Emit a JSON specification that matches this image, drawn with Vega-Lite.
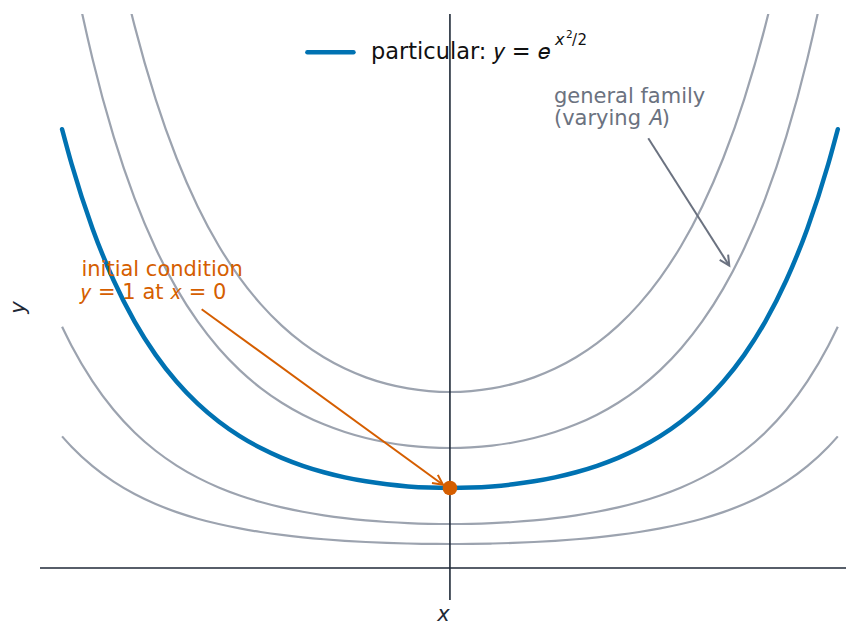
{
  "$schema": "https://vega.github.io/schema/vega-lite/v6.json",
  "width": 806,
  "height": 586,
  "autosize": {"type": "none"},
  "padding": {"left": 40, "top": 14, "right": 0, "bottom": 25},
  "background": "white",
  "config": {
    "view": {"stroke": null},
    "font": "DejaVu Sans",
    "axis": {"domain": false, "ticks": false, "labels": false, "grid": false}
  },
  "datasets": {
    "curves": [
      {"x": -1.845, "a030": 1.6455, "a055": 3.0167, "a100": 5.4849, "a150": 8.2274, "a220": 12.0668},
      {"x": -1.8, "a030": 1.5159, "a055": 2.7792, "a100": 5.0531, "a150": 7.5796, "a220": 11.1168},
      {"x": -1.7, "a030": 1.2726, "a055": 2.3331, "a100": 4.2419, "a150": 6.3629, "a220": 9.3322},
      {"x": -1.6, "a030": 1.0790, "a055": 1.9782, "a100": 3.5966, "a150": 5.3950, "a220": 7.9126},
      {"x": -1.5, "a030": 0.9241, "a055": 1.6941, "a100": 3.0802, "a150": 4.6203, "a220": 6.7765},
      {"x": -1.4, "a030": 0.7993, "a055": 1.4655, "a100": 2.6645, "a150": 3.9967, "a220": 5.8618},
      {"x": -1.3, "a030": 0.6984, "a055": 1.2804, "a100": 2.3280, "a150": 3.4920, "a220": 5.1216},
      {"x": -1.2, "a030": 0.6163, "a055": 1.1299, "a100": 2.0544, "a150": 3.0816, "a220": 4.5197},
      {"x": -1.1, "a030": 0.5494, "a055": 1.0072, "a100": 1.8313, "a150": 2.7469, "a220": 4.0288},
      {"x": -1.0, "a030": 0.4946, "a055": 0.9068, "a100": 1.6487, "a150": 2.4731, "a220": 3.6272},
      {"x": -0.9, "a030": 0.4498, "a055": 0.8246, "a100": 1.4994, "a150": 2.2490, "a220": 3.2986},
      {"x": -0.8, "a030": 0.4131, "a055": 0.7574, "a100": 1.3771, "a150": 2.0657, "a220": 3.0297},
      {"x": -0.7, "a030": 0.3833, "a055": 0.7027, "a100": 1.2776, "a150": 1.9164, "a220": 2.8108},
      {"x": -0.6, "a030": 0.3592, "a055": 0.6585, "a100": 1.1972, "a150": 1.7958, "a220": 2.6339},
      {"x": -0.5, "a030": 0.3399, "a055": 0.6232, "a100": 1.1332, "a150": 1.6997, "a220": 2.4929},
      {"x": -0.4, "a030": 0.3250, "a055": 0.5958, "a100": 1.0833, "a150": 1.6249, "a220": 2.3832},
      {"x": -0.3, "a030": 0.3138, "a055": 0.5753, "a100": 1.0460, "a150": 1.5690, "a220": 2.3013},
      {"x": -0.2, "a030": 0.3061, "a055": 0.5611, "a100": 1.0202, "a150": 1.5303, "a220": 2.2444},
      {"x": -0.1, "a030": 0.3015, "a055": 0.5528, "a100": 1.0050, "a150": 1.5075, "a220": 2.2110},
      {"x": 0.0, "a030": 0.3000, "a055": 0.5500, "a100": 1.0000, "a150": 1.5000, "a220": 2.2000},
      {"x": 0.1, "a030": 0.3015, "a055": 0.5528, "a100": 1.0050, "a150": 1.5075, "a220": 2.2110},
      {"x": 0.2, "a030": 0.3061, "a055": 0.5611, "a100": 1.0202, "a150": 1.5303, "a220": 2.2444},
      {"x": 0.3, "a030": 0.3138, "a055": 0.5753, "a100": 1.0460, "a150": 1.5690, "a220": 2.3013},
      {"x": 0.4, "a030": 0.3250, "a055": 0.5958, "a100": 1.0833, "a150": 1.6249, "a220": 2.3832},
      {"x": 0.5, "a030": 0.3399, "a055": 0.6232, "a100": 1.1332, "a150": 1.6997, "a220": 2.4929},
      {"x": 0.6, "a030": 0.3592, "a055": 0.6585, "a100": 1.1972, "a150": 1.7958, "a220": 2.6339},
      {"x": 0.7, "a030": 0.3833, "a055": 0.7027, "a100": 1.2776, "a150": 1.9164, "a220": 2.8108},
      {"x": 0.8, "a030": 0.4131, "a055": 0.7574, "a100": 1.3771, "a150": 2.0657, "a220": 3.0297},
      {"x": 0.9, "a030": 0.4498, "a055": 0.8246, "a100": 1.4994, "a150": 2.2490, "a220": 3.2986},
      {"x": 1.0, "a030": 0.4946, "a055": 0.9068, "a100": 1.6487, "a150": 2.4731, "a220": 3.6272},
      {"x": 1.1, "a030": 0.5494, "a055": 1.0072, "a100": 1.8313, "a150": 2.7469, "a220": 4.0288},
      {"x": 1.2, "a030": 0.6163, "a055": 1.1299, "a100": 2.0544, "a150": 3.0816, "a220": 4.5197},
      {"x": 1.3, "a030": 0.6984, "a055": 1.2804, "a100": 2.3280, "a150": 3.4920, "a220": 5.1216},
      {"x": 1.4, "a030": 0.7993, "a055": 1.4655, "a100": 2.6645, "a150": 3.9967, "a220": 5.8618},
      {"x": 1.5, "a030": 0.9241, "a055": 1.6941, "a100": 3.0802, "a150": 4.6203, "a220": 6.7765},
      {"x": 1.6, "a030": 1.0790, "a055": 1.9782, "a100": 3.5966, "a150": 5.3950, "a220": 7.9126},
      {"x": 1.7, "a030": 1.2726, "a055": 2.3331, "a100": 4.2419, "a150": 6.3629, "a220": 9.3322},
      {"x": 1.8, "a030": 1.5159, "a055": 2.7792, "a100": 5.0531, "a150": 7.5796, "a220": 11.1168},
      {"x": 1.845, "a030": 1.6455, "a055": 3.0167, "a100": 5.4849, "a150": 8.2274, "a220": 12.0668}
    ]
  },
  "encoding": {
    "x": {
      "field": "x", "type": "quantitative",
      "scale": {"domain": [-1.95, 1.884], "nice": false, "zero": false},
      "axis": {"title": "x", "titleFont": "DejaVu Sans", "titleFontStyle": "italic", "titleFontWeight": "normal", "titleFontSize": 21, "titleColor": "#1f2937", "titleBaseline": "alphabetic", "titlePadding": 20}
    },
    "y": {
      "field": "y", "type": "quantitative",
      "scale": {"domain": [-0.4, 6.925], "nice": false, "zero": false},
      "axis": {"title": "y", "titleFont": "DejaVu Sans", "titleFontStyle": "italic", "titleFontWeight": "normal", "titleFontSize": 21, "titleColor": "#1f2937", "titleBaseline": "alphabetic", "titlePadding": 16}
    }
  },
  "layer": [
    {
      "data": {"name": "curves"},
      "transform": [{"fold": ["a030", "a055", "a150", "a220"], "as": ["A", "y"]}],
      "mark": {"type": "line", "color": "#9ca3af", "strokeWidth": 2.2, "clip": true, "interpolate": "monotone"},
      "encoding": {"detail": {"field": "A", "type": "nominal"}}
    },
    {
      "data": {"name": "curves"},
      "transform": [{"fold": ["a100"], "as": ["A", "y"]}],
      "mark": {"type": "line", "color": "#0072B2", "strokeWidth": 4.5, "strokeCap": "round", "clip": true, "interpolate": "monotone"},
      "encoding": {}
    },
    {
      "data": {"values": [{"x": 0}]},
      "mark": {"type": "rule", "color": "#1f2937", "strokeWidth": 1.6},
      "encoding": {"y": null}
    },
    {
      "data": {"values": [{"y": 0}]},
      "mark": {"type": "rule", "color": "#1f2937", "strokeWidth": 1.6},
      "encoding": {"x": null}
    },
    {
      "data": {"values": [{"x": -1.181, "y": 3.234, "x2": -0.033, "y2": 1.04}]},
      "mark": {"type": "rule", "color": "#D55E00", "strokeWidth": 2},
      "encoding": {"x2": {"field": "x2"}, "y2": {"field": "y2"}}
    },
    {
      "data": {"values": [{"x": -0.033, "y": 1.04}]},
      "mark": {"type": "point", "shape": "M-1,-0.5L0,0L-1,0.5", "filled": false, "size": 400, "angle": 36, "color": "#D55E00", "strokeWidth": 2, "opacity": 1}
    },
    {
      "data": {"values": [{"x": 0.9434, "y": 5.371, "x2": 1.3288, "y2": 3.779}]},
      "mark": {"type": "rule", "color": "#6b7280", "strokeWidth": 2},
      "encoding": {"x2": {"field": "x2"}, "y2": {"field": "y2"}}
    },
    {
      "data": {"values": [{"x": 1.3288, "y": 3.779}]},
      "mark": {"type": "point", "shape": "M-1,-0.5L0,0L-1,0.5", "filled": false, "size": 400, "angle": 57.5, "color": "#6b7280", "strokeWidth": 2, "opacity": 1}
    },
    {
      "data": {"values": [{"x": 0, "y": 1}]},
      "mark": {"type": "point", "shape": "circle", "filled": true, "size": 215, "color": "#D55E00", "opacity": 1}
    },
    {
      "data": {"values": [{"x": -1.753, "y": 3.65, "label": "initial condition\n𝑦 = 1 at 𝑥 = 0"}]},
      "mark": {"type": "text", "align": "left", "baseline": "alphabetic", "fontSize": 21, "lineHeight": 22.5, "lineBreak": "\n", "color": "#D55E00", "font": "DejaVu Sans"},
      "encoding": {"text": {"field": "label"}}
    },
    {
      "data": {"values": [{"x": 0.4948, "y": 5.816, "label": "general family\n(varying 𝐴)"}]},
      "mark": {"type": "text", "align": "left", "baseline": "alphabetic", "fontSize": 21, "lineHeight": 22, "lineBreak": "\n", "color": "#6b7280", "font": "DejaVu Sans"},
      "encoding": {"text": {"field": "label"}}
    },
    {
      "data": {"values": [{"x": -0.678, "x2": -0.459, "y": 6.446}]},
      "mark": {"type": "rule", "color": "#0072B2", "strokeWidth": 4.5, "strokeCap": "round"},
      "encoding": {"x2": {"field": "x2"}}
    },
    {
      "data": {"values": [{"x": -0.3758, "y": 6.359, "label": "particular: 𝑦 = 𝑒"}]},
      "mark": {"type": "text", "align": "left", "baseline": "alphabetic", "fontSize": 22.5, "color": "#111111", "font": "DejaVu Sans"},
      "encoding": {"text": {"field": "label"}}
    },
    {
      "data": {"values": [{"x": 0.4995, "y": 6.534, "label": "x"}]},
      "mark": {"type": "text", "align": "left", "baseline": "alphabetic", "fontSize": 16, "fontStyle": "italic", "color": "#111111", "font": "DejaVu Sans"},
      "encoding": {"text": {"field": "label"}}
    },
    {
      "data": {"values": [
        {"x": 0.5804, "y": 6.534, "label": "/"},
        {"x": 0.6066, "y": 6.534, "label": "2"}
      ]},
      "mark": {"type": "text", "align": "left", "baseline": "alphabetic", "fontSize": 15, "color": "#111111", "font": "DejaVu Sans"},
      "encoding": {"text": {"field": "label"}}
    },
    {
      "data": {"values": [{"x": 0.5519, "y": 6.619, "label": "2"}]},
      "mark": {"type": "text", "align": "left", "baseline": "alphabetic", "fontSize": 10.5, "color": "#111111", "font": "DejaVu Sans"},
      "encoding": {"text": {"field": "label"}}
    }
  ]
}
